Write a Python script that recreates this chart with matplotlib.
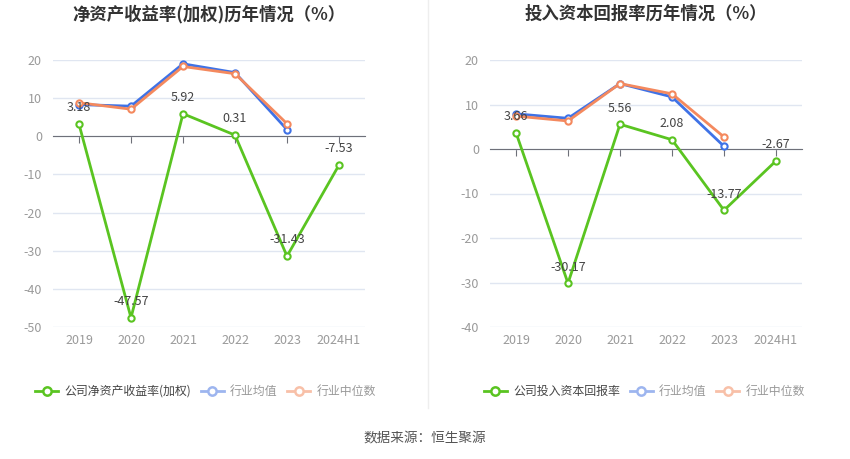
import matplotlib
matplotlib.use('Agg')
import matplotlib.pyplot as plt
from matplotlib.lines import Line2D
import matplotlib.transforms as mtransforms

plt.rcParams['font.family'] = ['Noto Sans CJK SC', 'DejaVu Sans']
plt.rcParams['axes.unicode_minus'] = False

years = ['2019', '2020', '2021', '2022', '2023', '2024H1']

# 净资产收益率(加权)
roe_company = [3.18, -47.57, 5.92, 0.31, -31.43, -7.53]
roe_avg = [8.3, 7.9, 19.0, 16.7, 1.75]
roe_median = [8.8, 7.1, 18.3, 16.4, 3.3]

# 投入资本回报率
roic_company = [3.66, -30.17, 5.56, 2.08, -13.77, -2.67]
roic_avg = [7.9, 6.9, 14.7, 11.7, 0.6]
roic_median = [7.4, 6.3, 14.7, 12.4, 2.7]

GREEN = '#5ac421'
BLUE = '#3f72e6'
ORANGE = '#f4895e'
GRID = '#e0e6f1'
TICK = '#9a9a9a'


def draw(ax, company, avg, median, ylim, yticks, title, legend_name, legend_x):
    x = list(range(len(years)))
    ax.set_xlim(-0.5, len(years) - 0.5)
    ax.set_ylim(*ylim)
    ax.set_yticks(yticks)
    ax.yaxis.grid(True, color=GRID, lw=1)
    ax.set_axisbelow(True)
    for s in ['top', 'right', 'left']:
        ax.spines[s].set_visible(False)
    ax.spines['bottom'].set_position(('data', 0))
    ax.spines['bottom'].set_color('#6e7079')
    ax.set_xticks(x)
    ax.tick_params(axis='x', length=5, color='#6e7079', labelbottom=False)
    ax.tick_params(axis='y', length=0, labelcolor=TICK, labelsize=9, pad=8)
    trans = mtransforms.blended_transform_factory(ax.transData, ax.transAxes)
    for i, lab in enumerate(years):
        ax.text(i, -0.025, lab, transform=trans, ha='center', va='top',
                color=TICK, fontsize=9)

    mk = dict(marker='o', ms=4.5, mfc='white', mew=1.5)
    ax.plot(x[:len(avg)], avg, color=BLUE, lw=2, zorder=3, **mk)
    ax.plot(x[:len(median)], median, color=ORANGE, lw=2, zorder=4, **mk)
    ax.plot(x, company, color=GREEN, lw=2, zorder=5, **mk)
    for i, v in enumerate(company):
        ax.annotate(f'{v:.2f}', (i, v), xytext=(0, 7), textcoords='offset points',
                    ha='center', va='bottom', fontsize=9, color='#444444', zorder=6)

    fig = ax.figure
    pos = ax.get_position()
    fig.text(pos.x0 + pos.width / 2, 1 - 14 / 459, title, ha='center', va='center',
             fontsize=12.5, fontweight='bold', color='#333333')

    # legend
    ly = 1 - 391 / 459
    names = [legend_name, '行业均值', '行业中位数']
    colors = [GREEN, '#9db5ef', '#f8c0a8']
    tcolors = ['#444444', '#999999', '#999999']
    lx = legend_x
    for name, c, tc in zip(names, colors, tcolors):
        fig.add_artist(Line2D([lx / 850, (lx + 23) / 850], [ly, ly], color=c, lw=2,
                              transform=fig.transFigure))
        fig.add_artist(Line2D([(lx + 11.5) / 850], [ly], marker='o', ms=6, mfc='white',
                              mec=c, mew=1.8, transform=fig.transFigure))
        t = fig.text((lx + 29) / 850, ly, name, ha='left', va='center', fontsize=8.6, color=tc)
        fig.canvas.draw()
        bb = t.get_window_extent()
        lx = bb.x1 + 10


fig = plt.figure(figsize=(8.5, 4.59), dpi=100)
ax1 = fig.add_axes([53 / 850, 1 - 327 / 459, 312 / 850, 267 / 459])
ax2 = fig.add_axes([490 / 850, 1 - 327 / 459, 312 / 850, 267 / 459])

draw(ax1, roe_company, roe_avg, roe_median, (-50, 20), range(-50, 21, 10),
     '净资产收益率(加权)历年情况（%）', '公司净资产收益率(加权)', 35)
draw(ax2, roic_company, roic_avg, roic_median, (-40, 20), range(-40, 21, 10),
     '投入资本回报率历年情况（%）', '公司投入资本回报率', 484)

fig.add_artist(Line2D([428 / 850, 428 / 850], [1, 1 - 408 / 459], color='#eeeeee', lw=1,
                      transform=fig.transFigure))
fig.text(0.5, 1 - 438 / 459, '数据来源：恒生聚源', ha='center', va='center',
         fontsize=9.8, color='#555555')

fig.savefig('out.png', dpi=100)
